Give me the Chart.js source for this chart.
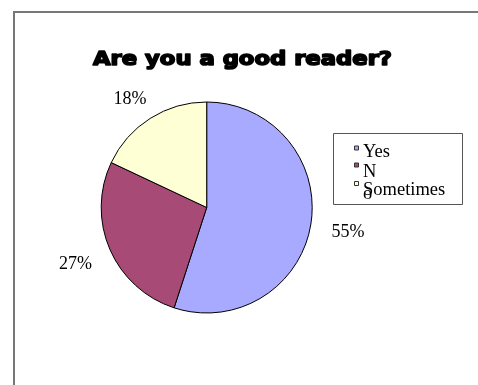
<!DOCTYPE html>
<html><head><meta charset="utf-8">
<script src="https://cdn.jsdelivr.net/npm/chart.js@4.4.0/dist/chart.umd.min.js"></script>
<style>html,body{margin:0;padding:0;background:#fff}#wrap{width:478px;height:385px;position:relative}</style>
</head><body><div id="wrap"><canvas id="c" width="478" height="385"></canvas></div>
<script>
const titleText = "Are you a good reader?";
const categories = ["Yes", "No", "Sometimes"];
const values = [55, 27, 18];
const pctLabels = ["55%", "27%", "18%"];
const sliceColors = ["#A8AAFF", "#A84A76", "#FFFFD6"];

const serif = '"Liberation Serif", "Times New Roman", serif';

const decor = {
  id: 'decor',
  beforeDraw(chart) {
    const ctx = chart.ctx;
    ctx.save();
    ctx.fillStyle = '#fff';
    ctx.fillRect(0, 0, chart.width, chart.height);
    ctx.strokeStyle = '#777';
    ctx.lineWidth = 2;
    ctx.strokeRect(14, 12, 520, 420);
    ctx.restore();
  },
  afterDraw(chart) {
    const ctx = chart.ctx;
    ctx.save();
    // title
    ctx.font = 'bold 19px "DejaVu Sans", sans-serif';
    ctx.fillStyle = '#000';
    ctx.strokeStyle = '#000';
    ctx.lineWidth = 1.6;
    ctx.lineJoin = 'round';
    ctx.textBaseline = 'alphabetic';
    const tw = ctx.measureText(titleText).width;
    const target = 299;
    ctx.save();
    ctx.translate(93, 64.5);
    ctx.scale(target / tw, 1);
    ctx.textAlign = 'left';
    ctx.fillText(titleText, 0, 0);
    ctx.strokeText(titleText, 0, 0);
    ctx.restore();

    // percentage labels
    const meta = chart.getDatasetMeta(0);
    ctx.font = '18px ' + serif;
    ctx.fillStyle = '#000';
    ctx.textAlign = 'center';
    ctx.textBaseline = 'middle';
    meta.data.forEach((arc, i) => {
      const p = arc.getProps(['x', 'y', 'startAngle', 'endAngle', 'outerRadius'], true);
      const mid = (p.startAngle + p.endAngle) / 2;
      const dx = Math.cos(mid), dy = Math.sin(mid);
      const w = ctx.measureText(pctLabels[i]).width;
      const d = p.outerRadius + 21;
      const cx = p.x + dx * d + dx * w / 2;
      const cy = p.y + dy * d + dy * 6.5 + 4;
      ctx.fillText(pctLabels[i], cx, cy);
    });

    // legend
    const lx = 333, ly = 133, lw = 129, lh = 71;
    ctx.fillStyle = '#fff';
    ctx.fillRect(lx, ly, lw, lh);
    ctx.strokeStyle = '#555';
    ctx.lineWidth = 1;
    ctx.strokeRect(lx + 0.5, ly + 0.5, lw, lh);
    ctx.textAlign = 'left';
    ctx.textBaseline = 'alphabetic';
    ctx.font = '18.5px ' + serif;
    const rowBase = [157, 177, 195];
    const markTop = [145.5, 162.5, 181];
    categories.forEach((c, i) => {
      ctx.fillStyle = sliceColors[i];
      ctx.fillRect(354.5, markTop[i] + 0.5, 4, 4);
      ctx.strokeStyle = '#333';
      ctx.strokeRect(354.5, markTop[i] + 0.5, 4, 4);
      ctx.fillStyle = '#000';
      if (c === 'No') {
        ctx.fillText(c[0], 363, rowBase[i]);
        ctx.fillText(c.slice(1), 363, rowBase[i] + 22);
      } else {
        ctx.fillText(c, 363, rowBase[i]);
      }
    });
    ctx.restore();
  }
};

new Chart(document.getElementById('c'), {
  type: 'pie',
  data: {
    labels: categories,
    datasets: [{
      data: values,
      backgroundColor: sliceColors,
      borderColor: '#000',
      borderWidth: 1,
      hoverOffset: 0,
      offset: 0
    }]
  },
  options: {
    responsive: false,
    devicePixelRatio: 1,
    animation: false,
    events: [],
    layout: { padding: { left: 100.7, top: 101.5, right: 165.3, bottom: 71.5 } },
    plugins: {
      legend: { display: false },
      title: { display: false },
      tooltip: { enabled: false }
    }
  },
  plugins: [decor]
});
</script>
</body></html>
